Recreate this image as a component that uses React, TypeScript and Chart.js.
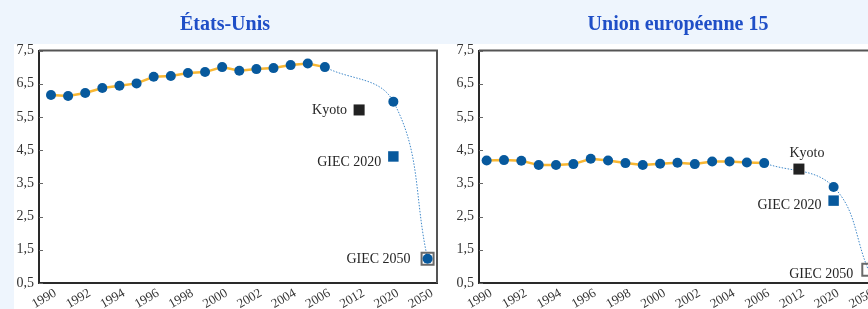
import React, { useEffect, useRef } from 'react';
import { Chart, registerables } from 'chart.js';

Chart.register(...registerables);

const FONT = '"Liberation Serif", "Times New Roman", serif';

// x axis slots (blank slots keep the uneven spacing of the original)
const xLabels = ['1990', '1991', '1992', '1993', '1994', '1995', '1996', '1997', '1998', '1999', '2000', '2001', '2002', '2003', '2004', '2005', '2006', '', '2012', '', '2020', '', '2050'];
const histYears = ['1990', '1991', '1992', '1993', '1994', '1995', '1996', '1997', '1998', '1999', '2000', '2001', '2002', '2003', '2004', '2005', '2006'];
const projYears = ['2006', '2020', '2050'];
const yTicks = [0.5, 1.5, 2.5, 3.5, 4.5, 5.5, 6.5, 7.5];

// États-Unis
const usTitle = 'États-Unis';
const usHistory = [6.16, 6.13, 6.22, 6.37, 6.44, 6.51, 6.71, 6.73, 6.82, 6.85, 7.0, 6.89, 6.94, 6.97, 7.06, 7.11, 7.0];
const usProjection = [7.0, 5.96, 1.23];
const usProjDots = [null, 5.96, 1.23];
const usKyoto = 5.71;
const usGiec2020 = 4.31;
const usGiec2050 = 1.23;

// Union européenne 15
const euTitle = 'Union européenne 15';
const euHistory = [4.19, 4.2, 4.18, 4.05, 4.05, 4.08, 4.24, 4.19, 4.11, 4.05, 4.09, 4.12, 4.08, 4.16, 4.16, 4.13, 4.11];
const euProjection = [4.11, 3.39, 0.9];
const euProjDots = [null, 3.39, null];
const euKyoto = 3.93;
const euGiec2020 = 2.98;
const euGiec2050 = 0.9;

const markerNames = ['Kyoto', 'GIEC 2020', 'GIEC 2050'];

const xi = (year: string) => xLabels.indexOf(year);

const BLUE = '#07599d';
const YELLOW = '#f8b733';

type LabelPos = { dx: number; dy: number; align: CanvasTextAlign };

function labelPlugin(points: { x: number; y: number; text: string }[], pos: LabelPos[]) {
  return {
    id: 'markerLabels',
    afterDatasetsDraw(chart: any) {
      const { ctx, scales } = chart;
      ctx.save();
      ctx.font = `14px ${FONT}`;
      ctx.fillStyle = '#262626';
      ctx.textBaseline = 'middle';
      points.forEach((p, i) => {
        const px = scales.x.getPixelForValue(p.x);
        const py = scales.y.getPixelForValue(p.y);
        ctx.textAlign = pos[i].align;
        ctx.fillText(p.text, px + pos[i].dx, py + pos[i].dy);
      });
      ctx.restore();
    },
  };
}

const framePlugin = {
  id: 'frame',
  beforeDatasetsDraw(chart: any) {
    const { ctx, chartArea: a, scales } = chart;
    ctx.save();
    ctx.strokeStyle = '#555';
    ctx.lineWidth = 2;
    ctx.beginPath();
    ctx.moveTo(a.left, a.top);
    ctx.lineTo(a.right, a.top);
    ctx.lineTo(a.right, a.bottom);
    ctx.stroke();
    ctx.strokeStyle = '#666';
    ctx.lineWidth = 1;
    ctx.beginPath();
    yTicks.forEach((v) => {
      const y = Math.round(scales.y.getPixelForValue(v)) + 0.5;
      ctx.moveTo(a.left, y);
      ctx.lineTo(a.left + 4, y);
    });
    ctx.stroke();
    ctx.restore();
  },
};

type PanelCfg = {
  title: string;
  history: number[];
  projection: number[];
  projDots: (number | null)[];
  kyoto: number;
  giec2020: number;
  giec2050: number;
  xMin: number;
  xMax: number;
  padRight: number;
  labelPos: LabelPos[];
};

function buildChart(canvas: HTMLCanvasElement, c: PanelCfg) {
  const dotPts = projYears
    .map((y, i) => ({ x: xi(y), y: c.projDots[i] }))
    .filter((p) => p.y !== null);
  const markers = [
    { x: xi('2012'), y: c.kyoto, text: markerNames[0] },
    { x: xi('2020'), y: c.giec2020, text: markerNames[1] },
    { x: xi('2050'), y: c.giec2050, text: markerNames[2] },
  ];
  return new Chart(canvas, {
    type: 'line',
    data: {
      datasets: [
        {
          data: projYears.map((y, i) => ({ x: xi(y), y: c.projection[i] })),
          borderColor: '#3f88c9',
          borderWidth: 1,
          borderDash: [1.5, 1.5],
          pointRadius: 0,
          tension: 0.4,
          fill: false,
          order: 10,
          clip: false,
        },
        {
          data: histYears.map((y, i) => ({ x: xi(y), y: c.history[i] })),
          borderColor: YELLOW,
          borderWidth: 2.5,
          pointRadius: 5,
          pointBackgroundColor: BLUE,
          pointBorderWidth: 0,
          tension: 0,
          fill: false,
          order: 6,
          clip: false,
        },
        {
          data: [{ x: markers[2].x, y: c.giec2050 }],
          showLine: false,
          pointStyle: 'rect',
          pointRadius: 8.5,
          pointBackgroundColor: 'rgba(0,0,0,0)',
          pointBorderColor: '#6a6a6a',
          pointBorderWidth: 2,
          order: 5,
          clip: false,
        },
        {
          data: dotPts,
          showLine: false,
          pointRadius: 5,
          pointBackgroundColor: BLUE,
          pointBorderWidth: 0,
          order: 4,
          clip: false,
        },
        {
          data: [{ x: markers[0].x, y: c.kyoto }],
          showLine: false,
          pointStyle: 'rect',
          pointRadius: 7.8,
          pointBackgroundColor: '#222222',
          pointBorderWidth: 0,
          order: 3,
          clip: false,
        },
        {
          data: [{ x: markers[1].x, y: c.giec2020 }],
          showLine: false,
          pointStyle: 'rect',
          pointRadius: 7.4,
          pointBackgroundColor: BLUE,
          pointBorderWidth: 0,
          order: 2,
          clip: false,
        },
      ] as any,
    },
    options: {
      responsive: false,
      animation: false,
      events: [],
      layout: { autoPadding: false, padding: { left: 13, right: c.padRight, top: 0, bottom: 0 } },
      plugins: {
        legend: { display: false },
        tooltip: { enabled: false },
        title: {
          display: true,
          text: c.title,
          color: '#1f4fc7',
          font: { family: FONT, size: 20, weight: 'bold' },
          padding: { top: 13, bottom: 13.5 },
        },
      },
      scales: {
        x: {
          type: 'linear',
          min: c.xMin,
          max: c.xMax,
          grid: { display: false, drawTicks: false },
          border: { display: true, color: '#2a2a2a', width: 2 },
          ticks: {
            autoSkip: false,
            minRotation: 30,
            maxRotation: 30,
            padding: 2.5,
            labelOffset: 4.5,
            color: '#333',
            font: { family: FONT, size: 13 },
            callback: (v: any) => xLabels[v] ?? '',
          },
          afterBuildTicks: (s: any) => {
            s.ticks = xLabels.map((_, i) => ({ value: i })).filter((t) => t.value % 2 === 0);
          },
          afterFit: (s: any) => {
            s.height = 26;
          },
        },
        y: {
          min: 0.5,
          max: 7.5,
          grid: { display: false, drawTicks: false },
          border: { display: true, color: '#2a2a2a', width: 2 },
          ticks: {
            padding: 5,
            color: '#333',
            font: { family: FONT, size: 14 },
            callback: (v: any) => Number(v).toFixed(1).replace('.', ','),
          },
          afterBuildTicks: (s: any) => {
            s.ticks = yTicks.map((v) => ({ value: v }));
          },
          afterFit: (s: any) => {
            s.width = 26;
          },
        },
      },
    } as any,
    plugins: [framePlugin, labelPlugin(markers, c.labelPos)],
  });
}

function Panel({ cfg, left, width }: { cfg: PanelCfg; left: number; width: number }) {
  const ref = useRef<HTMLCanvasElement>(null);
  useEffect(() => {
    if (!ref.current) return;
    const chart = buildChart(ref.current, cfg);
    return () => chart.destroy();
  }, []);
  return (
    <div style={{ position: 'absolute', left, top: 0, width, height: 309 }}>
      <canvas ref={ref} width={width} height={309} style={{ display: 'block' }} />
    </div>
  );
}

const usCfg: PanelCfg = {
  title: usTitle,
  history: usHistory,
  projection: usProjection,
  projDots: usProjDots,
  kyoto: usKyoto,
  giec2020: usGiec2020,
  giec2050: usGiec2050,
  xMin: -0.7,
  xMax: 22.55,
  padRight: 13,
  labelPos: [
    { dx: -12, dy: 0, align: 'right' },
    { dx: -12, dy: 6, align: 'right' },
    { dx: -17, dy: 1, align: 'right' },
  ],
};

const euCfg: PanelCfg = {
  title: euTitle,
  history: euHistory,
  projection: euProjection,
  projDots: euProjDots,
  kyoto: euKyoto,
  giec2020: euGiec2020,
  giec2050: euGiec2050,
  xMin: -0.44,
  xMax: 24.0,
  padRight: 12,
  labelPos: [
    { dx: 8, dy: -16, align: 'center' },
    { dx: -12, dy: 5, align: 'right' },
    { dx: -15, dy: 5, align: 'right' },
  ],
};

export default function App() {
  return (
    <div
      style={{
        position: 'fixed',
        left: 0,
        top: 0,
        width: 868,
        height: 309,
        overflow: 'hidden',
        background: '#eef5fd',
      }}
    >
      <div style={{ position: 'absolute', left: 14, top: 44, right: 0, bottom: 0, background: '#ffffff' }} />
      <Panel cfg={usCfg} left={0} width={450} />
      <Panel cfg={euCfg} left={440} width={475} />
    </div>
  );
}
